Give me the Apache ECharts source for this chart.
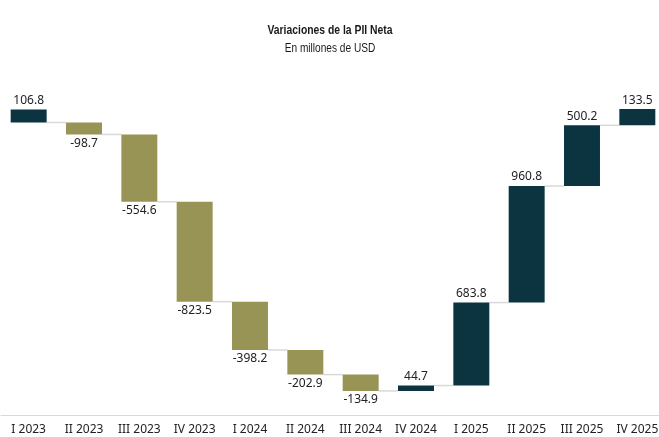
<!DOCTYPE html>
<html>
<head>
<meta charset="utf-8">
<script src="https://cdn.jsdelivr.net/npm/echarts@6/dist/echarts.min.js"></script>
<style>
html,body{margin:0;padding:0;background:#fff;}
#chart{width:659px;height:437px;}
</style>
</head>
<body>
<div id="chart"></div>
<script>
// Data
const categories = ['I 2023','II 2023','III 2023','IV 2023','I 2024','II 2024','III 2024','IV 2024','I 2025','II 2025','III 2025','IV 2025'];
const changes = [106.8, -98.7, -554.6, -823.5, -398.2, -202.9, -134.9, 44.7, 683.8, 960.8, 500.2, 133.5];
const titleText = 'Variaciones de la PII Neta';
const subtitleText = 'En millones de USD';

// Running levels: first bar rises from 0, the running total restarts at 0 with the second bar (as in the reference)
const starts = [];
const ends = [];
let level = 0;
changes.forEach((v, i) => {
  const s = (i === 0) ? 0 : level;
  if (i === 0) { level = 0; } else { level = s + v; }
  starts.push(s);
  ends.push(i === 0 ? v : level);
});

const POS = '#0b3340';
const NEG = '#979456';
const barFrac = 0.65;

const barData = categories.map((c, i) => [i, starts[i], ends[i], changes[i]]);
const connData = [];
for (let i = 0; i < categories.length - 1; i++) connData.push([i, starts[i + 1]]);

const chart = echarts.init(document.getElementById('chart'), null, {renderer: 'canvas'});
chart.setOption({
  animation: false,
  backgroundColor: '#ffffff',
  graphic: [{
    type: 'text', x: 330, y: 24, scaleX: 0.83,
    style: {text: titleText, font: 'bold 12.5px "Liberation Sans"', fill: '#1a1a1a', align: 'center', verticalAlign: 'alphabetic'}
  }, {
    type: 'text', x: 330, y: 42, scaleX: 0.81,
    style: {text: subtitleText, font: '12.5px "Liberation Sans"', fill: '#1a1a1a', align: 'center', verticalAlign: 'alphabetic'}
  }],
  grid: {left: 1, width: 664, top: 60, bottom: 22, containLabel: false, outerBoundsMode: 'none'},
  xAxis: {
    type: 'category',
    data: categories,
    axisLine: {show: true, onZero: false, lineStyle: {color: '#d9d9d9', width: 1}},
    axisTick: {show: false},
    axisLabel: {interval: 0, fontFamily: 'Noto Sans', fontSize: 12, color: '#222', margin: 9},
    splitLine: {show: false}
  },
  yAxis: {
    type: 'value', min: -2411, max: 515,
    show: false, splitLine: {show: false}
  },
  series: [{
    type: 'custom',
    data: connData,
    z: 1,
    renderItem: function (params, api) {
      const i = api.value(0), lv = api.value(1);
      const p1 = api.coord([i, lv]);
      const p2 = api.coord([i + 1, lv]);
      const bw = api.size([1, 0])[0] * barFrac;
      return {
        type: 'line',
        shape: {x1: p1[0] + bw / 2, y1: p1[1], x2: p2[0] - bw / 2, y2: p2[1]},
        style: {stroke: '#d9d9d9', lineWidth: 1.5}
      };
    }
  }, {
    type: 'custom',
    data: barData,
    z: 2,
    renderItem: function (params, api) {
      const i = api.value(0), s = api.value(1), e = api.value(2), v = api.value(3);
      const ps = api.coord([i, s]);
      const pe = api.coord([i, e]);
      const bw = api.size([1, 0])[0] * barFrac;
      const top = Math.min(ps[1], pe[1]);
      const h = Math.abs(ps[1] - pe[1]);
      const positive = v >= 0;
      const labelY = positive ? top - 3 : top + h + 3;
      return {
        type: 'group',
        children: [{
          type: 'rect',
          shape: {x: ps[0] - bw / 2, y: top, width: bw, height: h},
          style: {fill: positive ? POS : NEG}
        }, {
          type: 'text',
          x: ps[0], y: labelY,
          style: {
            text: v.toFixed(1),
            fill: '#222',
            font: '12px "Noto Sans"',
            align: 'center',
            verticalAlign: positive ? 'bottom' : 'top'
          }
        }]
      };
    }
  }]
});
</script>
</body>
</html>
